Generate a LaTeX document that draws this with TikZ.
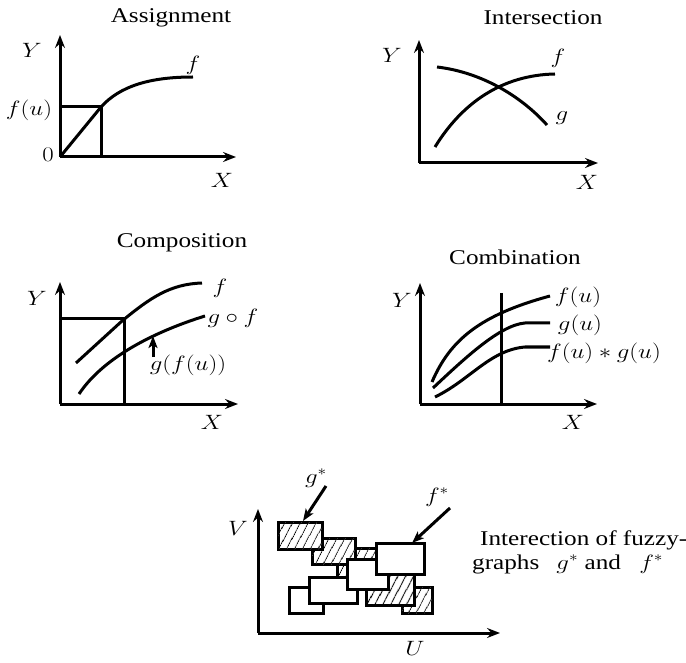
\documentclass[tikz,border=0pt]{standalone}
\usepackage{fontspec}
\setmainfont{Liberation Serif}
\usepackage{graphicx}
\usetikzlibrary{arrows.meta,patterns.meta}
\newcommand\hsx[1]{\scalebox{1.2}[1]{#1}}
\tikzset{
  axis/.style={line width=3pt,-{Stealth[length=13pt,width=10pt,inset=4.5pt]}},
  crv/.style={line width=3pt},
  lbl/.style={inner sep=0pt,font=\fontsize{21}{24}\selectfont},
  ptr/.style={line width=3pt,-{Stealth[length=12pt,width=9pt,inset=3pt]}},
  hbox/.style={line width=3pt,fill=white,postaction={pattern={Lines[angle=62,distance=6.5pt,line width=1pt]}}},
  wbox/.style={line width=3pt,fill=white},
}
\begin{document}
\begin{tikzpicture}[x=1pt,y=-1pt,line join=miter]
\useasboundingbox (0,0) rectangle (686,663);
% ---------- Assignment ----------
\node[lbl] (t1) at (171,18) {\hsx{Assignment}};
\coordinate (o1) at (60,157);
\coordinate (y1) at (60,35);
\coordinate (x1) at (236,157);
\draw[axis] (o1) -- (y1);
\draw[axis] (o1) -- (x1);
\draw[crv] (60,107) -- (101,107) -- (101,157);
\draw[crv] (o1) -- (101,107) .. controls (120,86) and (150,77) .. (193,77);
\node[lbl] (Y1) at (32,50) {\hsx{$Y$}};
\node[lbl] (fu1) at (29,110) {\hsx{$f(u)$}};
\node[lbl] (z1) at (48,155) {\hsx{$0$}};
\node[lbl] (f1) at (193,65) {\hsx{$f$}};
\node[lbl] (X1) at (222,180) {\hsx{$X$}};
% ---------- Intersection ----------
\node[lbl] (t2) at (543,18) {\hsx{Intersection}};
\coordinate (o2) at (419,163);
\coordinate (y2) at (419,40);
\coordinate (x2) at (598,163);
\draw[axis] (o2) -- (y2);
\draw[axis] (o2) -- (x2);
\draw[crv] (435,147) .. controls (462,103) and (502,75) .. (555,74);
\draw[crv] (437,67) .. controls (480,72) and (520,95) .. (547,125);
\node[lbl] (Y2) at (392,55) {\hsx{$Y$}};
\node[lbl] (f2) at (558,58) {\hsx{$f$}};
\node[lbl] (g2) at (562,118) {\hsx{$g$}};
\node[lbl] (X2) at (587,182) {\hsx{$X$}};
% ---------- Composition ----------
\node[lbl] (t3) at (182,243) {\hsx{Composition}};
\coordinate (o3) at (60,404);
\coordinate (y3) at (60,282);
\coordinate (x3) at (238,404);
\draw[axis] (o3) -- (y3);
\draw[axis] (o3) -- (x3);
\draw[crv] (60,319) -- (124,319) -- (124,404);
\draw[crv] (76,363) -- (122,321) .. controls (150,298) and (170,284) .. (202,283);
\draw[crv] (79,394) .. controls (105,355) and (160,330) .. (205,316);
\coordinate (a3s) at (153,357);
\coordinate (a3e) at (153,336);
\draw[ptr] (a3s) -- (a3e);
\node[lbl] (Y3) at (37,298) {\hsx{$Y$}};
\node[lbl] (f3) at (220,288) {\hsx{$f$}};
\node[lbl] (gf3) at (233,318) {\hsx{$g\circ f$}};
\node[lbl] (gfu3) at (188,365) {\hsx{$g(f(u))$}};
\node[lbl] (X3) at (212,422) {\hsx{$X$}};
% ---------- Combination ----------
\node[lbl] (t4) at (515,257) {\hsx{Combination}};
\coordinate (o4) at (420,404);
\coordinate (y4) at (420,283);
\coordinate (x4) at (597,404);
\draw[axis] (o4) -- (y4);
\draw[axis] (o4) -- (x4);
\draw[crv] (501,293) -- (501,404);
\draw[crv] (432,382) .. controls (450,340) and (480,315) .. (550,296);
\draw[crv] (433,388) .. controls (465,358) and (500,325) .. (525,323) -- (550,323);
\draw[crv] (435,397) .. controls (470,380) and (490,350) .. (525,347) -- (550,347);
\node[lbl] (Y4) at (402,300) {\hsx{$Y$}};
\node[lbl] (fu4) at (578,297) {\hsx{$f(u)$}};
\node[lbl] (gu4) at (580,325) {\hsx{$g(u)$}};
\node[lbl] (fg4) at (604,353) {\hsx{$f(u)\ast g(u)$}};
\node[lbl] (X4) at (573,422) {\hsx{$X$}};
% ---------- Fuzzy graphs ----------
\coordinate (o5) at (258,633);
\coordinate (y5) at (258,509);
\coordinate (x5) at (500,633);
\draw[axis] (o5) -- (y5);
\draw[axis] (o5) -- (x5);
\draw[hbox] (402,587) rectangle (432,613);
\draw[hbox] (366,574) rectangle (414,605);
\draw[hbox] (337,548) rectangle (377,578);
\draw[hbox] (312,538) rectangle (355,564);
\draw[hbox] (278,522) rectangle (322,549);
\draw[wbox] (289,587) rectangle (323,613);
\draw[wbox] (309,577) rectangle (357,603);
\draw[wbox] (347,559) rectangle (388,589);
\draw[wbox] (376,543) rectangle (424,574);
\coordinate (gs) at (326,486);
\coordinate (ge) at (303,521);
\coordinate (fs) at (450,508);
\coordinate (fe) at (412,543);
\draw[ptr] (gs) -- (ge);
\draw[ptr] (fs) -- (fe);
\node[lbl] (g5) at (316,478) {\hsx{$g^*$}};
\node[lbl] (f5) at (437,497) {\hsx{$f^*$}};
\node[lbl] (V5) at (238,528) {\hsx{$V$}};
\node[lbl] (U5) at (415,648) {\hsx{$U$}};
\node[lbl,anchor=base west,align=left,font=\fontsize{21}{24}\selectfont] (cap) at (472,569)
  {\hsx{\hspace*{6.7pt}Interection of fuzzy-}\\\hsx{graphs\hspace{9pt} $g^*$ and\hspace{10pt} $f^*$}};
\end{tikzpicture}
\end{document}
